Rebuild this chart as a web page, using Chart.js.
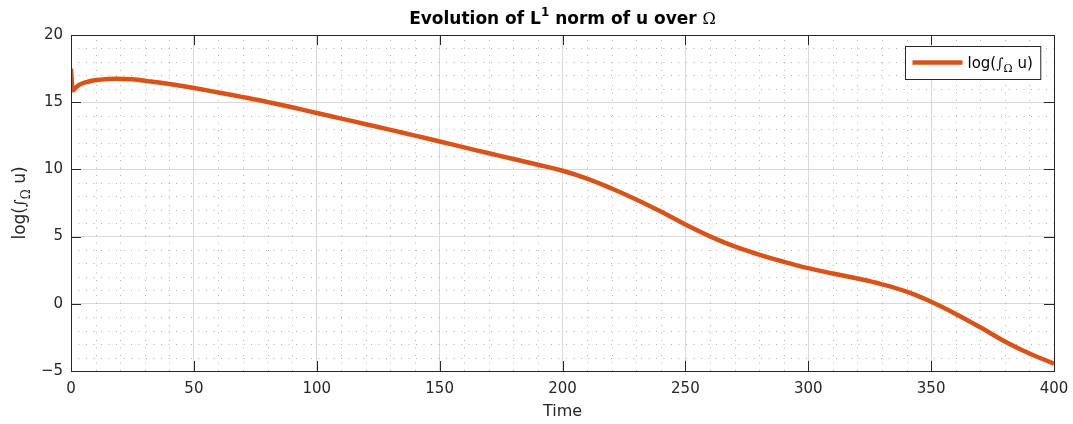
<!DOCTYPE html>
<html>
<head>
<meta charset="utf-8">
<script src="https://cdn.jsdelivr.net/npm/chart.js@4.4.1/dist/chart.umd.min.js"></script>
<style>
  html, body { margin: 0; padding: 0; background: #fff; }
</style>
</head>
<body>
<canvas id="chart" width="1073" height="424"></canvas>
<script>
// values
const timeValues = [0, 0.3, 0.8, 2, 4, 8, 12, 18, 25, 32, 40, 50, 60, 70, 80, 90,
  100, 110, 120, 130, 140, 150, 160, 170, 180, 190, 200, 210, 220, 230, 240,
  250, 260, 270, 280, 290, 300, 310, 320, 330, 340, 350, 360, 370, 380, 390, 400];
const logL1Values = [17.5, 16.6, 15.9, 16.1, 16.35, 16.58, 16.68, 16.74, 16.7, 16.55, 16.35, 16.05, 15.72, 15.38, 15.02, 14.62,
  14.2, 13.78, 13.36, 12.94, 12.51, 12.08, 11.64, 11.2, 10.77, 10.35, 9.9, 9.32, 8.58, 7.76, 6.86,
  5.9, 5.02, 4.27, 3.66, 3.13, 2.65, 2.25, 1.88, 1.45, 0.9, 0.15, -0.75, -1.75, -2.8, -3.7, -4.45];

const xTicks = [0, 50, 100, 150, 200, 250, 300, 350, 400];
const yTicks = [-5, 0, 5, 10, 15, 20];

const titleParts = ['Evolution of L', '1', ' norm of u over ', 'Ω'];
const yLabelParts = ['log(', '∫', 'Ω', ' u)'];
const xLabel = 'Time';
const legendLabel = yLabelParts;

const lineColor = '#D95319';
const axisColor = '#262626';
const FONT = '"DejaVu Sans", sans-serif';

// draw a row of text pieces, each with its own font and vertical shift
function drawRich(ctx, pieces, x, y, align) {
  let total = 0;
  pieces.forEach(p => { ctx.font = p.font; p.w = ctx.measureText(p.text).width; total += p.w; });
  let cx = align === 'center' ? x - total / 2 : x;
  ctx.textAlign = 'left';
  ctx.textBaseline = 'alphabetic';
  pieces.forEach(p => {
    ctx.font = p.font;
    ctx.fillText(p.text, cx, y + (p.dy || 0));
    cx += p.w;
  });
  return total;
}

function integralPieces(parts, size) {
  return [
    { text: parts[0], font: `${size}px ${FONT}` },
    { text: parts[1], font: `italic ${Math.round(size * 0.9)}px "DejaVu Serif"` },
    { text: parts[2], font: `${Math.round(size * 0.7)}px "DejaVu Serif"`, dy: size * 0.3 },
    { text: parts[3], font: `${size}px ${FONT}` }
  ];
}

const matlabLook = {
  id: 'matlabLook',
  beforeDatasetsDraw(chart) {
    const { ctx, chartArea: a, scales: { x, y } } = chart;
    ctx.save();
    ctx.strokeStyle = 'rgba(0,0,0,0.3)';
    ctx.lineWidth = 1;
    ctx.setLineDash([1, 6.5]);
    for (let v = x.min + 10; v < x.max; v += 10) {
      if (v % 50 === 0) continue;
      const px = Math.round(x.getPixelForValue(v)) + 0.5;
      ctx.beginPath(); ctx.moveTo(px, a.bottom); ctx.lineTo(px, a.top); ctx.stroke();
    }
    for (let v = y.min + 1; v < y.max; v += 1) {
      if (v % 5 === 0) continue;
      const py = Math.round(y.getPixelForValue(v)) + 0.5;
      ctx.beginPath(); ctx.moveTo(a.left, py); ctx.lineTo(a.right, py); ctx.stroke();
    }
    ctx.restore();
  },
  afterDatasetsDraw(chart) {
    const { ctx, chartArea: a, scales: { x, y } } = chart;
    ctx.save();
    ctx.strokeStyle = axisColor;
    ctx.lineWidth = 1;
    ctx.strokeRect(Math.round(a.left) + 0.5, Math.round(a.top) + 0.5,
      Math.round(a.right - a.left), Math.round(a.bottom - a.top));
    // inward tick marks on all four sides
    const tl = 10;
    ctx.beginPath();
    xTicks.forEach(v => {
      const px = Math.round(x.getPixelForValue(v)) + 0.5;
      ctx.moveTo(px, a.bottom); ctx.lineTo(px, a.bottom - tl);
      ctx.moveTo(px, a.top); ctx.lineTo(px, a.top + tl);
    });
    yTicks.forEach(v => {
      const py = Math.round(y.getPixelForValue(v)) + 0.5;
      ctx.moveTo(a.left, py); ctx.lineTo(a.left + tl, py);
      ctx.moveTo(a.right, py); ctx.lineTo(a.right - tl, py);
    });
    ctx.stroke();

    // legend box
    const pieces = integralPieces(legendLabel, 15);
    let tw = 0;
    pieces.forEach(p => { ctx.font = p.font; tw += ctx.measureText(p.text).width; });
    const boxW = 7 + 50 + 6 + tw + 7;
    const boxH = 33;
    const bx = Math.round(a.right - 14 - boxW) + 0.5;
    const by = Math.round(a.top + 11) + 0.5;
    ctx.fillStyle = '#fff';
    ctx.fillRect(bx, by, boxW, boxH);
    ctx.strokeStyle = axisColor;
    ctx.strokeRect(bx, by, boxW, boxH);
    ctx.strokeStyle = lineColor;
    ctx.lineWidth = 4.5;
    ctx.beginPath();
    ctx.moveTo(bx + 7, by + 16); ctx.lineTo(bx + 57, by + 16);
    ctx.stroke();
    ctx.fillStyle = '#000';
    drawRich(ctx, pieces, bx + 62, by + 21, 'left');
    ctx.restore();
  },
  afterDraw(chart) {
    const { ctx, chartArea: a } = chart;
    ctx.save();
    // title with superscript
    ctx.fillStyle = '#000';
    drawRich(ctx, [
      { text: titleParts[0], font: `bold 17px ${FONT}` },
      { text: titleParts[1], font: `bold 12px ${FONT}`, dy: -8 },
      { text: titleParts[2], font: `bold 17px ${FONT}` },
      { text: titleParts[3], font: `16px "DejaVu Serif"` }
    ], (a.left + a.right) / 2, 24, 'center');
    // rotated y label
    ctx.translate(25, (a.top + a.bottom) / 2);
    ctx.rotate(-Math.PI / 2);
    ctx.fillStyle = axisColor;
    drawRich(ctx, integralPieces(yLabelParts, 17), 0, 0, 'center');
    ctx.restore();
  }
};

new Chart(document.getElementById('chart'), {
  type: 'line',
  data: {
    datasets: [{
      label: 'log(∫Ω u)',
      data: timeValues.map((t, i) => ({ x: t, y: logL1Values[i] })),
      borderColor: lineColor,
      borderWidth: 4.5,
      pointRadius: 0,
      tension: 0.4,
      fill: false
    }]
  },
  options: {
    responsive: false,
    animation: false,
    devicePixelRatio: 1,
    layout: { padding: { left: 0, right: 19, top: 35, bottom: 0 } },
    plugins: {
      legend: { display: false },
      title: { display: false },
      tooltip: { enabled: false }
    },
    scales: {
      x: {
        type: 'linear',
        min: 0,
        max: 400,
        afterFit(scale) { scale.height = 53; scale.paddingLeft = 0; scale.paddingRight = 0; },
        afterBuildTicks(scale) { scale.ticks = xTicks.map(v => ({ value: v })); },
        ticks: { color: axisColor, font: { family: FONT, size: 15 }, padding: 9, maxRotation: 0 },
        grid: { color: '#d9d9d9', lineWidth: 1, drawTicks: false },
        border: { display: false },
        title: { display: true, text: xLabel, color: axisColor, font: { family: FONT, size: 16 }, padding: { top: 0, bottom: 3 } }
      },
      y: {
        min: -5,
        max: 20,
        afterFit(scale) { scale.width = 71; scale.paddingTop = 0; scale.paddingBottom = 0; },
        afterBuildTicks(scale) { scale.ticks = yTicks.map(v => ({ value: v })); },
        ticks: {
          color: axisColor,
          font: { family: FONT, size: 15 },
          padding: 8,
          callback: v => String(v).replace('-', '\u2212')
        },
        grid: { color: '#d9d9d9', lineWidth: 1, drawTicks: false },
        border: { display: false }
      }
    }
  },
  plugins: [matlabLook]
});
</script>
</body>
</html>
